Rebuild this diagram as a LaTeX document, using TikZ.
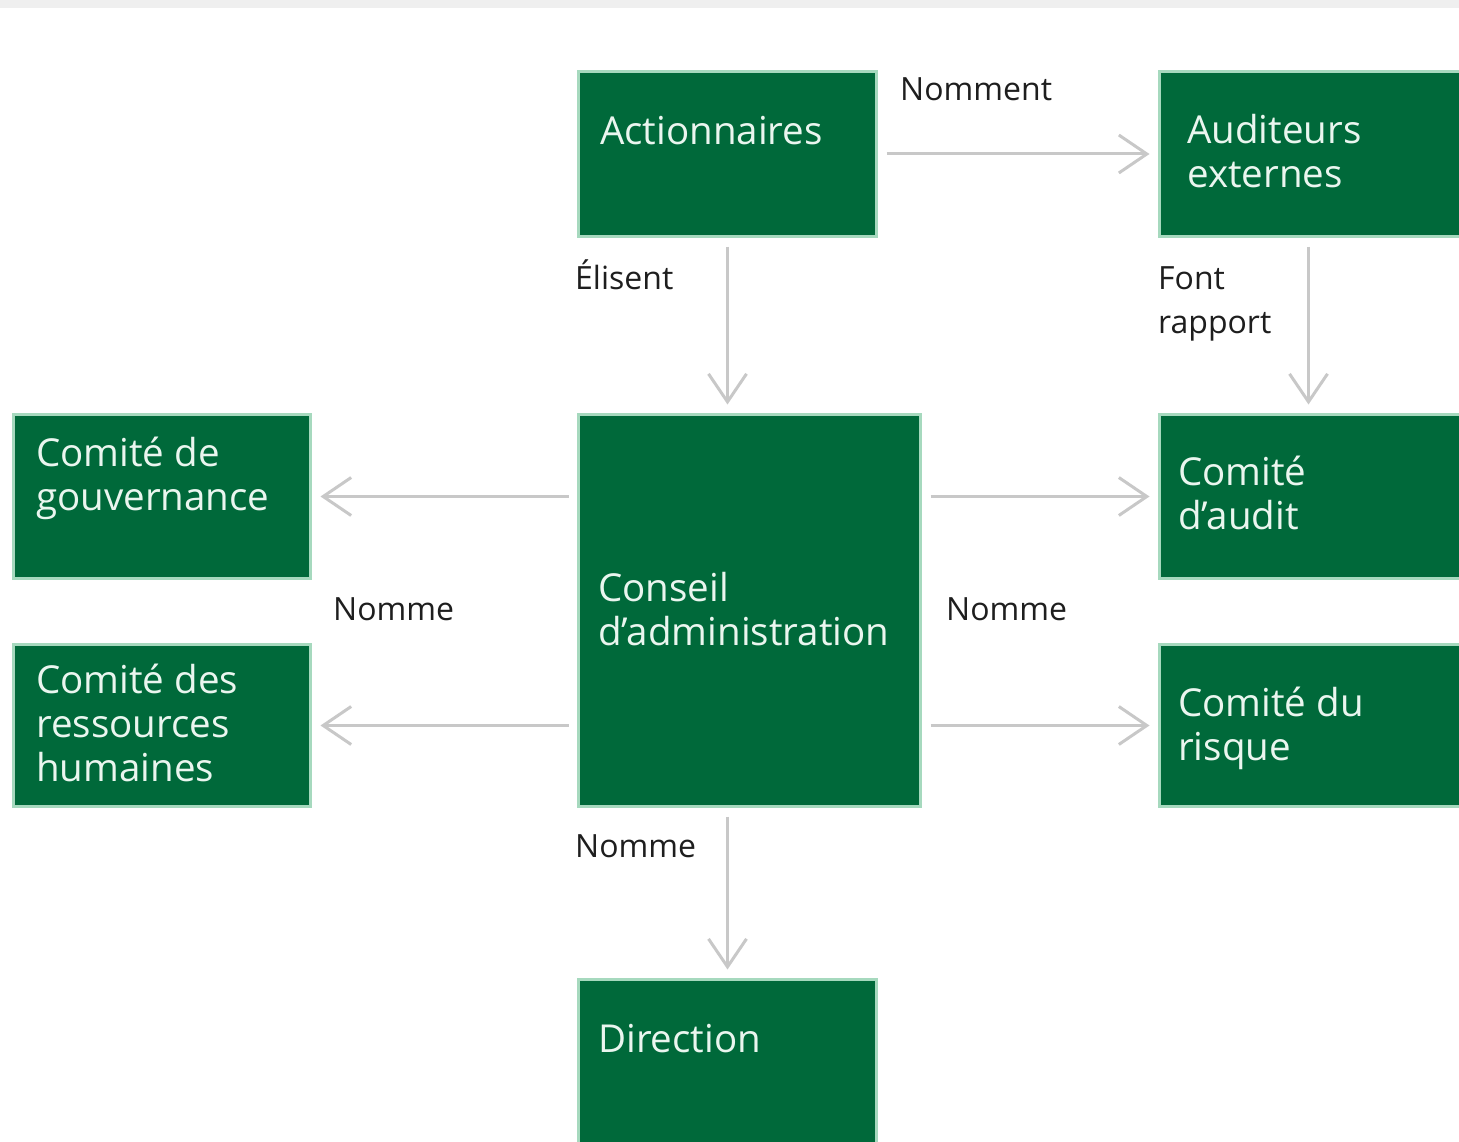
\documentclass[tikz,border=0pt]{standalone}
\usepackage{fontspec}
\setmainfont{Open Sans}
\usetikzlibrary{arrows.meta,calc}
\definecolor{boxgreen}{HTML}{00693A}
\definecolor{boxedge}{HTML}{A6D9BE}
\definecolor{boxtxt}{HTML}{EAF6EF}
\definecolor{arrowgray}{HTML}{C8C8C8}
\definecolor{labeltxt}{HTML}{1E1E1E}
\definecolor{topband}{HTML}{EFEFEF}
\begin{document}
\begin{tikzpicture}[x=1pt,y=-1pt,
  box/.style={draw=boxedge, fill=boxgreen, line width=3pt, inner sep=0pt, outer sep=0pt},
  boxtext/.style={font=\fontsize{38.5}{44}\selectfont, text=boxtxt, align=left, inner sep=0pt, anchor=base west},
  lbl/.style={font=\fontsize{32}{44}\selectfont, text=labeltxt, align=left, inner sep=0pt, anchor=base west},
  conn/.style={draw=arrowgray, line width=3pt, -{Straight Barb[length=28pt,width=38pt,line width=3pt]}, shorten <=10pt, shorten >=10pt}]
\useasboundingbox (0,0) rectangle (1459,1142);
\clip (0,0) rectangle (1459,1142);
\fill[topband] (0,0) rectangle (1459,8);
% boxes
\node[box, minimum width=298pt, minimum height=165pt] (act) at (727.5,154) {};
\node[box, minimum width=359pt, minimum height=165pt] (aud) at (1339,154) {};
\node[box, minimum width=297pt, minimum height=164pt] (gouv) at (162,496.5) {};
\node[box, minimum width=342pt, minimum height=392pt] (con) at (749.5,610.5) {};
\node[box, minimum width=359pt, minimum height=164pt] (audit) at (1339,496.5) {};
\node[box, minimum width=297pt, minimum height=162pt] (rh) at (162,725.5) {};
\node[box, minimum width=359pt, minimum height=162pt] (risk) at (1339,725.5) {};
\node[box, minimum width=298pt, minimum height=219pt] (dir) at (727.5,1089) {};
% box texts (anchor = baseline of the last line)
\node[boxtext] (t-act) at (600,145) {Actionnaires};
\node[boxtext] (t-aud) at (1187,188) {Auditeurs\\externes};
\node[boxtext] (t-gouv) at (36,510) {Comité de\\gouvernance};
\node[boxtext] (t-con) at (598,645) {Conseil\\d’administration};
\node[boxtext] (t-audit) at (1178,529) {Comité\\d’audit};
\node[boxtext] (t-rh) at (36,781) {Comité des\\ressources\\humaines};
\node[boxtext] (t-risk) at (1178,760) {Comité du\\risque};
\node[boxtext] (t-dir) at (598,1052) {Direction};
% connector labels
\node[lbl] (l-nomment) at (900,101) {Nomment};
\node[lbl] (l-elisent) at (575,289) {Élisent};
\node[lbl] (l-font) at (1158,333) {Font\\rapport};
\node[lbl] (l-nomme1) at (333,620) {Nomme};
\node[lbl] (l-nomme2) at (946,620) {Nomme};
\node[lbl] (l-nomme3) at (575,857) {Nomme};
% connectors
\draw[conn] (act) -- (aud);
\draw[conn] (act.south) -- (act.south |- con.north);
\coordinate (audx) at ([xshift=149pt]aud.south west);
\draw[conn] (audx) -- (audx |- audit.north);
\draw[conn] (con.west |- gouv.east) -- (gouv.east);
\draw[conn] (con.west |- rh.east) -- (rh.east);
\draw[conn] (con.east |- audit.west) -- (audit.west);
\draw[conn] (con.east |- risk.west) -- (risk.west);
\draw[conn] (dir.north |- con.south) -- (dir.north);
\end{tikzpicture}
\end{document}
